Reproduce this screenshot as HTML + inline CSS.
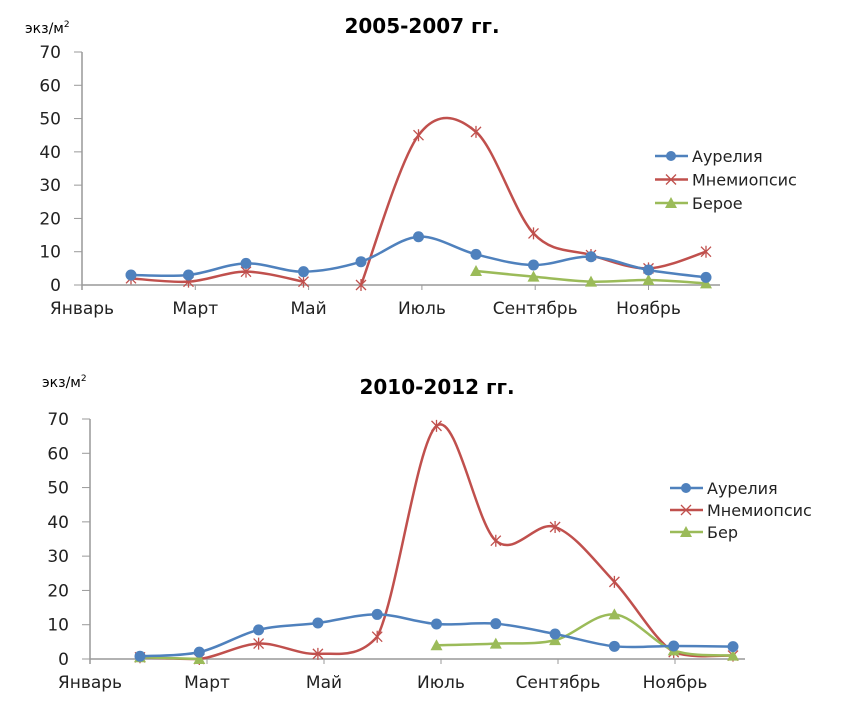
<!DOCTYPE html>
<html><head><meta charset="utf-8"><style>
body{margin:0;background:#fff;}
svg{display:block;font-family:"DejaVu Sans","Liberation Sans",sans-serif;}
</style></head><body>
<svg id="s" width="846" height="715" xmlns="http://www.w3.org/2000/svg"></svg>
<script>
const ticks=[0,10,20,30,40,50,60,70];
const monthLabels=["Январь","Март","Май","Июль","Сентябрь","Ноябрь"];
const aur1=[3,3,6.5,4,7,14.5,9.2,6,8.5,4.5,2.3];
const mne1=[2,1,4,1,0,45,46,15.5,9,5,10];
const mne1Breaks=[3];
const ber1=[null,null,null,null,null,null,4.2,2.5,1,1.5,0.5];
const aur2=[0.8,2,8.5,10.5,13,10.2,10.3,7.3,3.7,3.8,3.6];
const mne2=[0.5,0,4.5,1.5,6.5,68,34.5,38.5,22.5,2,1];
const ber2=[0.5,0,null,null,null,4,4.5,5.5,13,2.5,1];
const NS="http://www.w3.org/2000/svg";
const svg=document.getElementById('s');
function mk(t,a,p){const e=document.createElementNS(NS,t);for(const k in a)e.setAttribute(k,a[k]);(p||svg).appendChild(e);return e;}
function smooth(pts,ymax){const cl=v=>Math.min(v,ymax);let d="M"+pts[0][0]+","+pts[0][1];for(let i=0;i<pts.length-1;i++){const p0=pts[i-1]||pts[i],p1=pts[i],p2=pts[i+1],p3=pts[i+2]||p2;const t=0.33;const c1=[p1[0]+(p2[0]-p0[0])*t/2,cl(p1[1]+(p2[1]-p0[1])*t/2)],c2=[p2[0]-(p3[0]-p1[0])*t/2,cl(p2[1]-(p3[1]-p1[1])*t/2)];d+=" C"+c1+" "+c2+" "+p2;}return d;}
function chart(cfg){
 const g=mk('g',{});
 
 
 const y=v=>cfg.y0-(cfg.y0-cfg.y70)*v/70;
 const x=i=>cfg.px0+i*cfg.dx;
 const t=mk('text',{x:cfg.titleX,y:cfg.titleY,'font-size':20,'font-weight':'bold','text-anchor':'middle',fill:'#000'},g);t.textContent=cfg.title;
 
 const u=mk('text',{x:cfg.unitX,y:cfg.unitY,'font-size':14,fill:'#000'},g);u.innerHTML='экз/м<tspan font-size="9" dy="-6">2</tspan>';
 
 mk('line',{x1:cfg.ax,y1:cfg.y70,x2:cfg.ax,y2:cfg.y0+5,stroke:'#999','stroke-width':1.5},g);
 mk('line',{x1:cfg.ax,y1:cfg.y0,x2:cfg.xEnd,y2:cfg.y0,stroke:'#999','stroke-width':1.5},g);
 ticks.forEach(v=>{mk('line',{x1:cfg.ax-8,y1:y(v),x2:cfg.ax,y2:y(v),stroke:'#999'},g);
  const tl=mk('text',{x:cfg.ax-21,y:y(v)+6,'font-size':17,'text-anchor':'end',fill:'#222'},g);tl.textContent=v;
  });
 monthLabels.forEach((m,i)=>{const lx=cfg.lab0+i*cfg.labDx;
  mk('line',{x1:lx,y1:cfg.y0,x2:lx,y2:cfg.y0+5,stroke:'#999'},g);
  const tl=mk('text',{x:lx,y:cfg.y0+29,'font-size':17,'text-anchor':'middle',fill:'#222'},g);tl.textContent=m;
  });
 function series(vals,col,mark,name,breaks){
  breaks=breaks||[];
  const sg=mk('g',{},g);
  
  
  let seg=[];const segs=[];
  vals.forEach((v,i)=>{if(v==null){if(seg.length)segs.push(seg);seg=[];}else{seg.push([x(i),y(v)]);if(breaks.includes(i)){segs.push(seg);seg=[];}}});
  if(seg.length)segs.push(seg);
  segs.forEach(s=>{if(s.length>1)mk('path',{d:smooth(s,cfg.y0),fill:'none',stroke:col,'stroke-width':2.5},sg);});
  vals.forEach((v,i)=>{if(v==null)return;const cx=x(i),cy=y(v);
   if(mark==='c')mk('circle',{cx:cx,cy:cy,r:5.5,fill:col},sg);
   else if(mark==='t')mk('polygon',{points:`${cx},${cy-6} ${cx-6},${cy+5} ${cx+6},${cy+5}`,fill:col},sg);
   else{mk('path',{d:`M${cx-5},${cy-5}L${cx+5},${cy+5}M${cx-5},${cy+5}L${cx+5},${cy-5}M${cx},${cy-6}L${cx},${cy+6}`,stroke:col,'stroke-width':1.3},sg);}
  });
 }
 series(cfg.mne,'#c0504d','x','series-mnemiopsis',cfg.mneBreaks);
 series(cfg.ber,'#9bbb59','t','series-beroe');
 series(cfg.aur,'#4f81bd','c','series-aurelia');
 const names=cfg.legend;const cols=['#4f81bd','#c0504d','#9bbb59'];const mks=['c','x','t'];
 names.forEach((n,i)=>{const ly=cfg.legY+i*cfg.legDy;const lg=mk('g',{},g);
  
  mk('line',{x1:cfg.legX,y1:ly,x2:cfg.legX+33,y2:ly,stroke:cols[i],'stroke-width':2.5},lg);
  const cx=cfg.legX+16;
  if(mks[i]==='c')mk('circle',{cx:cx,cy:ly,r:5,fill:cols[i]},lg);
  else if(mks[i]==='t')mk('polygon',{points:`${cx},${ly-6} ${cx-6},${ly+5} ${cx+6},${ly+5}`,fill:cols[i]},lg);
  else mk('path',{d:`M${cx-5},${ly-5}L${cx+5},${ly+5}M${cx-5},${ly+5}L${cx+5},${ly-5}`,stroke:cols[i],'stroke-width':1.3},lg);
  const lt=mk('text',{x:cfg.legX+37,y:ly+6,'font-size':16,fill:'#222'},lg);lt.textContent=n;});
}
chart({name:'chart-2005-2007',title:'2005-2007 гг.',titleX:422,titleY:33,unitX:25,unitY:33,ax:82,y0:285,y70:52,px0:131,dx:57.5,xEnd:720,lab0:82,labDx:113.3,
 aur:aur1,mne:mne1,mneBreaks:mne1Breaks,ber:ber1,
 legend:['Аурелия','Мнемиопсис','Берое'],legX:655,legY:156,legDy:23.5});
chart({name:'chart-2010-2012',title:'2010-2012 гг.',titleX:437,titleY:394,unitX:42,unitY:387,ax:90,y0:659,y70:419,px0:140,dx:59.3,xEnd:745,lab0:90,labDx:117,
 aur:aur2,mne:mne2,mneBreaks:[],ber:ber2,
 legend:['Аурелия','Мнемиопсис','Бер'],legX:670,legY:488,legDy:22});
</script>
</body></html>
